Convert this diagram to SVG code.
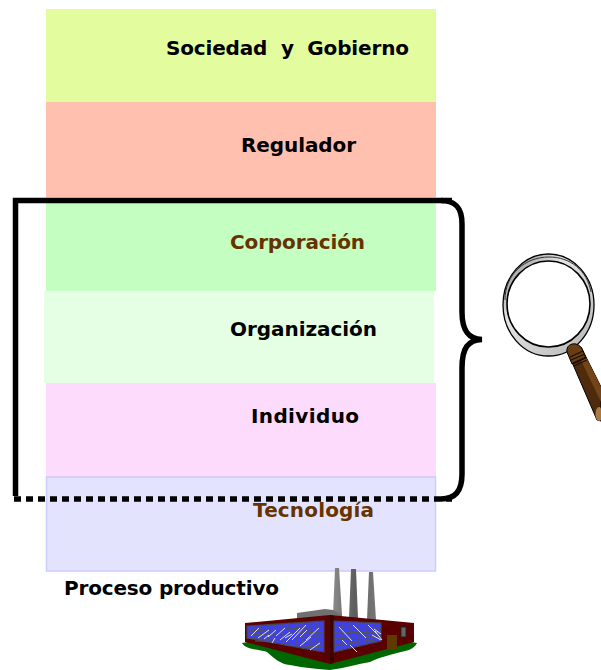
<svg xmlns="http://www.w3.org/2000/svg" width="601" height="670" viewBox="0 0 601 670">
<style>
text{font-family:"DejaVu Sans",Verdana,sans-serif;font-weight:700;font-size:20px;fill:#000;white-space:pre}
.b{fill:#663300}
.brace{fill:none;stroke:#000;stroke-width:5.5}
.pane{fill:#3f3ff2;stroke:#444;stroke-width:1.200}
.grid{stroke:#555;stroke-width:1;fill:none}
.gl{stroke:#dcdcf5;stroke-width:1;fill:none}
</style>
<defs>
<linearGradient id="st" x1="0" x2="1" y1="0" y2="0"><stop offset="0" stop-color="#8a8a8a"/><stop offset=".5" stop-color="#5e5e5e"/><stop offset="1" stop-color="#777"/></linearGradient>
<linearGradient id="ring" x1="0" x2="1" y1="0" y2="1"><stop offset="0" stop-color="#808080"/><stop offset=".35" stop-color="#e4e4e4"/><stop offset="1" stop-color="#b4b4b4"/></linearGradient>
</defs>
<g id="sociedad"><rect x="46" y="9" width="390" height="93" fill="#e3fc9e"/><text x="166" y="55" textLength="243" lengthAdjust="spacing">Sociedad  y  Gobierno</text></g>
<g id="regulador"><rect x="46" y="102" width="390" height="95" fill="#ffc0b0"/><text x="241" y="152" textLength="115">Regulador</text></g>
<g id="corporacion"><rect x="46" y="197" width="390" height="94" fill="#c4ffc1"/><text class="b" x="230" y="249" textLength="135">Corporación</text></g>
<g id="organizacion"><rect x="44" y="291" width="390" height="92" fill="#e4ffe4"/><text x="230" y="336" textLength="147">Organización</text></g>
<g id="individuo"><rect x="46" y="383" width="390" height="94" fill="#fddbfd"/><text x="251" y="423" textLength="108">Individuo</text></g>
<g id="tecnologia"><rect x="46.500" y="477" width="389" height="94" fill="#e3e3fd" stroke="#ccccff" stroke-width="1.500"/><text class="b" x="253" y="517" textLength="121">Tecnología</text></g>
<g id="proceso"><text x="64" y="595" textLength="215">Proceso productivo</text></g>
<g id="connectors">
<path class="brace" d="M452 200.500H15.500V496"/>
<path class="brace" d="M441 200.500C456 200.500 462 208 462 224V312C462 330 468 339 482 339.500C468 340 462 348 462 368V474C462 490 456 499 441 499"/>
<path d="M14 499H452" fill="none" stroke="#000" stroke-width="5.500" stroke-dasharray="7 5"/>
</g>
<g id="lupa">
<ellipse cx="548.500" cy="305" rx="45.500" ry="51" fill="url(#ring)" stroke="#000" stroke-width="1.300"/>
<path d="M505 300C505 274 525 257 549 257C570 257 587 270 591 292" fill="none" stroke="#333" stroke-width="1"/>
<ellipse cx="548.500" cy="304" rx="41.500" ry="43" fill="#fff" stroke="#000" stroke-width="1.600"/>
<path d="M568 353L581 347L601 387V421L597 420Z" fill="#4e2b0c" stroke="#000" stroke-width="1"/>
<path d="M576 350L581 347L601 387V402Z" fill="#744418"/>
<path d="M567 352C566 346 571 343 576 344C580 345 582 348 583 351L586 358L572 364Z" fill="#6b3d14" stroke="#000" stroke-width="1"/>
<path d="M570 357L583 351M571 360L585 354M573 363L586 357M574 366L587 360" fill="none" stroke="#1c0f02" stroke-width="1.300"/>
<ellipse cx="599" cy="414" rx="3.500" ry="7" fill="#a97a44"/>
</g>
<g id="fabrica">
<path d="M333 615L335 568H339L342 615ZM349 618L351 569H356L358 618ZM367 620L369 572H373L376 620Z" fill="url(#st)"/>
<path d="M297 613L325 609L333 610L342 615V620H297Z" fill="#707070"/>
<path d="M242 643C246 650 258 649 267 652C274 658 280 664 290 665C305 668 318 669 330 670C345 668 358 664 370 662C380 657 390 655 397 653C405 651 414 650 417 643L400 640H260Z" fill="#006600"/>
<path d="M245 623L330 615L414 623V642L330 664L245 642Z" fill="#5a0000"/>
<path d="M330 615V664L334 663V616Z" fill="#3a0000"/>
<path d="M247 626L324 621V652L247 638Z" class="pane"/>
<path d="M334 621L381 623V641L334 652Z" class="pane"/>
<path class="grid" d="M254 626V639M261 625V641M268 625V642M275 624V643M282 624V645M289 623V646M296 623V647M303 622V649M310 622V650M317 621V651M247 631L324 627M247 635L324 632M247 638L324 637M255 641L324 642M285 645L324 647M342 622V651M350 622V649M358 622V647M366 623V645M374 623V643M334 627L381 628M334 633L381 632M334 639L381 636M334 645L381 639"/>
<path class="gl" d="M251 636L259 628M258 638L269 630M264 639L269 635M268 637L276 630M272 643L275 638M276 636L285 628M280 640L290 632M285 638L292 634M286 642L300 628M292 640L306 625M300 637L307 630M300 646L311 637M306 640L319 628M310 650L320 643M339 627L352 641M342 640L347 645M353 625L366 638M350 645L357 652M368 625L380 637M375 631L382 640M372 635L381 640M374 629L381 634"/>
<rect x="387" y="635" width="10" height="14" fill="#5e3a00"/>
<rect x="401" y="627" width="5" height="10" fill="#666" stroke="#222" stroke-width="1"/>
</g>
</svg>
